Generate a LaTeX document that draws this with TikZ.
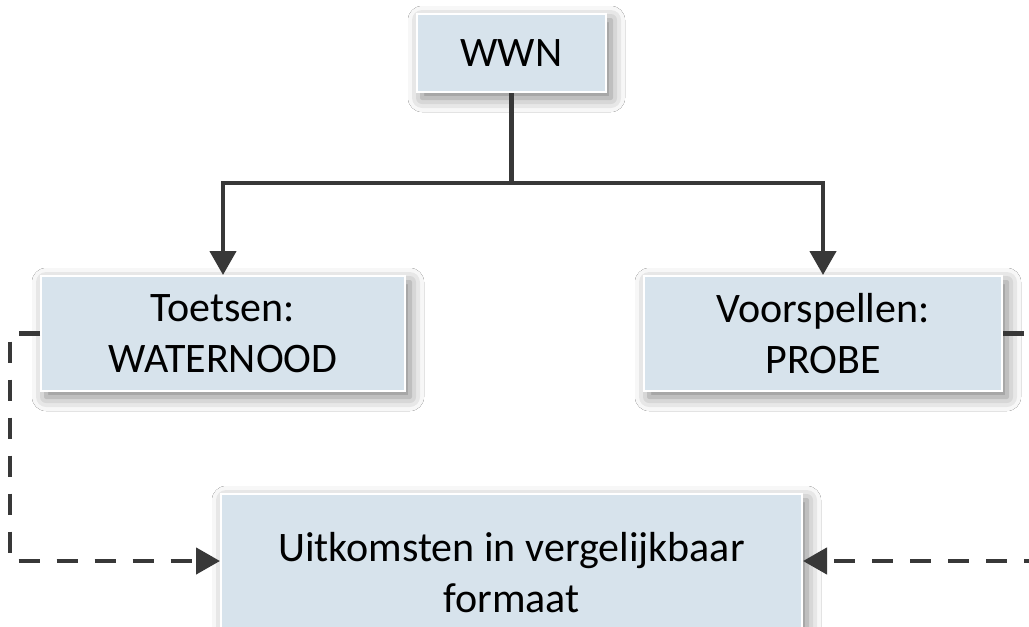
\documentclass[tikz,border=0pt]{standalone}
\usepackage{fontspec}
\setmainfont{Carlito}
\usetikzlibrary{arrows.meta,shadows.blur}
\definecolor{boxfill}{HTML}{D7E3EC}
\definecolor{linecol}{HTML}{383838}
\tikzset{
  box/.style={draw=white, line width=2pt, fill=boxfill, inner sep=0pt, align=center,
    font=\fontsize{42}{51}\selectfont,
    blur shadow={shadow xshift=5pt, shadow yshift=-6pt, shadow blur radius=14pt, shadow opacity=50}},
  tree/.style={draw=linecol, line width=4.5pt, -{Triangle[length=24pt,width=26pt]}},
  dashconn/.style={tree, dash pattern=on 21pt off 17pt}
}
\begin{document}
\begin{tikzpicture}[x=1pt,y=-1pt]
\useasboundingbox (0,0) rectangle (1029,627);
\clip (0,0) rectangle (1029,627);
\fill[white] (0,0) rectangle (1029,627);
\node[box, minimum width=189pt, minimum height=78pt] (wwn) at (511.5,53) {WWN};
\node[box, minimum width=364pt, minimum height=115pt] (toets) at (223,333.5) {Toetsen:\\WATERNOOD};
\node[box, minimum width=358pt, minimum height=115pt] (voor) at (823,333.5) {Voorspellen:\\PROBE};
\node[box, minimum width=581pt, minimum height=158pt] (uit) at (511.5,573) {Uitkomsten in vergelijkbaar\\formaat};
\draw[tree] (wwn.south) -- ++(0,90) coordinate (split) -| (toets.north);
\draw[tree] (split) -| (voor.north);
\draw[dashconn] (toets.west) -- ++(-30,0) |- ([yshift=12pt]uit.west);
\draw[dashconn] (voor.east) -- ++(40,0) |- ([yshift=12pt]uit.east);
\end{tikzpicture}
\end{document}
